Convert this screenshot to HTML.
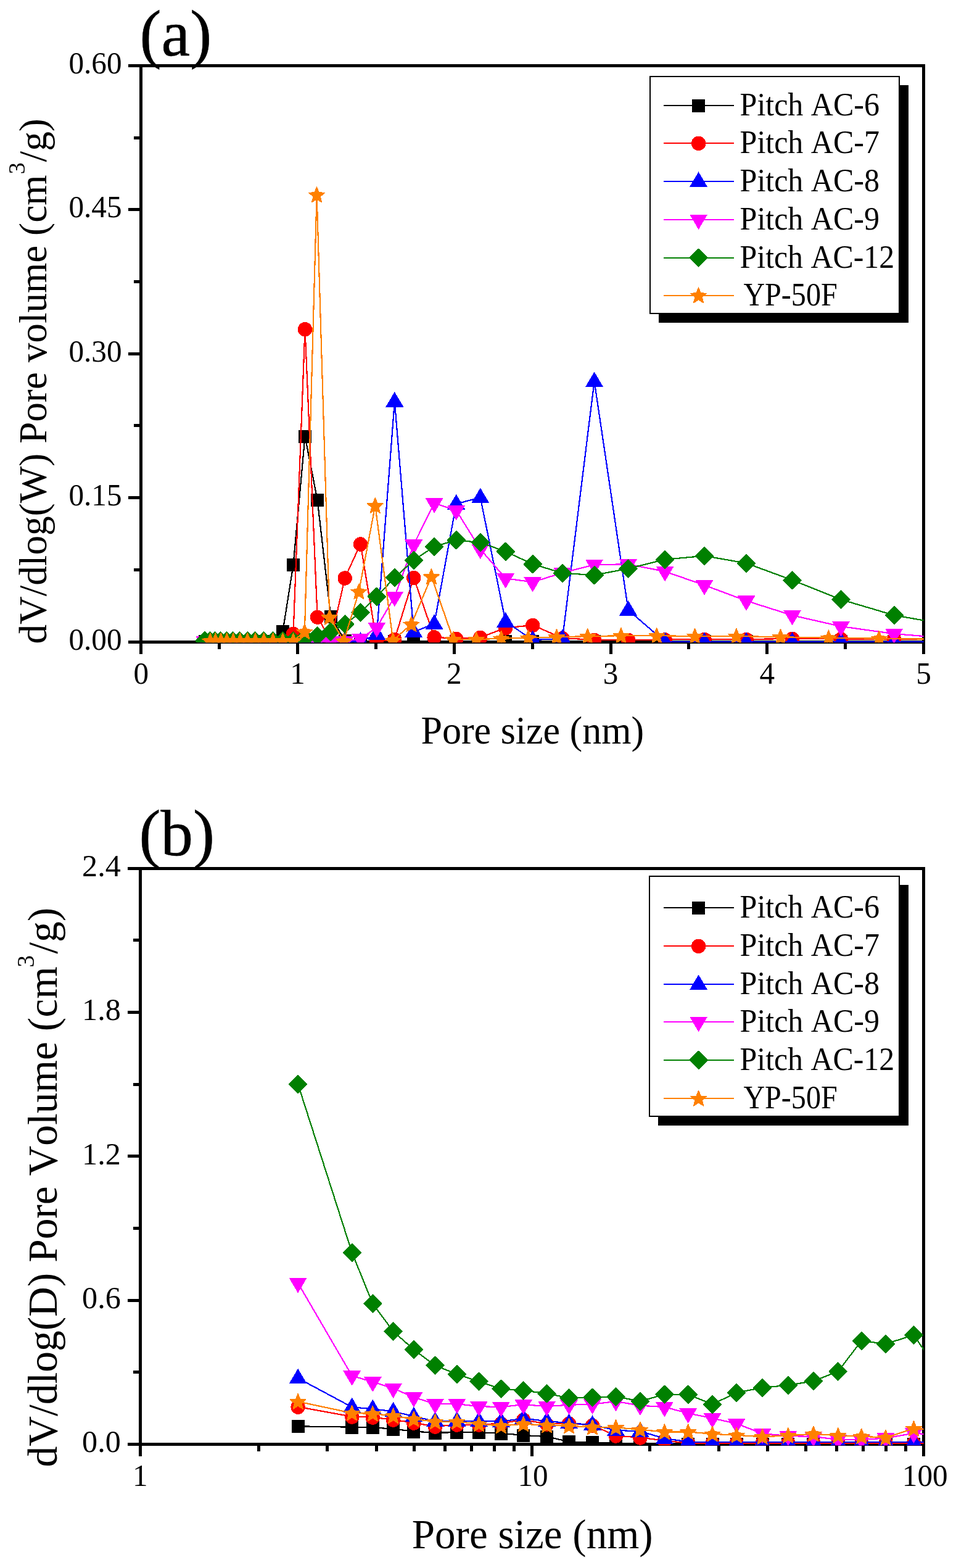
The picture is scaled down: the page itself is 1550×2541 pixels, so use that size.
<!DOCTYPE html>
<html lang="en">
<head>
<meta charset="utf-8">
<title>Pore size distribution</title>
<style>
html, body { margin: 0; padding: 0; background: #ffffff; }
body { width: 1550px; height: 2541px; }
svg { display: block; }
text { font-family: "Liberation Serif", "DejaVu Serif", serif; font-kerning: none; font-variant-ligatures: none; }
</style>
</head>
<body>
<svg width="1550" height="2541" viewBox="0 0 1550 2541" font-family='"Liberation Serif", "DejaVu Serif", serif' fill="#000">
<rect width="1550" height="2541" fill="#fff"/>
<defs><clipPath id="ca"><rect x="228.7" y="104" width="1268.8" height="937.2"/></clipPath><clipPath id="cb"><rect x="227.9" y="1405" width="1269.6" height="937.3"/></clipPath></defs>
<g id="chart-a" shape-rendering="crispEdges">
<g fill="#000" shape-rendering="crispEdges">
<rect x="226.2" y="103.9" width="1273.8" height="5"/>
<rect x="226.2" y="1037.5" width="1273.8" height="5"/>
<rect x="226.2" y="103.9" width="5" height="938.6"/>
<rect x="1495" y="103.9" width="5" height="938.6"/>
<rect x="226.2" y="1040" width="5" height="20"/>
<rect x="480" y="1040" width="5" height="20"/>
<rect x="733.7" y="1040" width="5" height="20"/>
<rect x="987.5" y="1040" width="5" height="20"/>
<rect x="1241.2" y="1040" width="5" height="20"/>
<rect x="1495" y="1040" width="5" height="20"/>
<rect x="353.1" y="1040" width="5" height="11.8"/>
<rect x="606.8" y="1040" width="5" height="11.8"/>
<rect x="860.6" y="1040" width="5" height="11.8"/>
<rect x="1114.4" y="1040" width="5" height="11.8"/>
<rect x="1368.1" y="1040" width="5" height="11.8"/>
<rect x="207.7" y="1037.5" width="21" height="5"/>
<rect x="207.7" y="804.1" width="21" height="5"/>
<rect x="207.7" y="570.7" width="21" height="5"/>
<rect x="207.7" y="337.3" width="21" height="5"/>
<rect x="207.7" y="103.9" width="21" height="5"/>
<rect x="217.2" y="920.8" width="11.5" height="5"/>
<rect x="217.2" y="687.4" width="11.5" height="5"/>
<rect x="217.2" y="454" width="11.5" height="5"/>
<rect x="217.2" y="220.6" width="11.5" height="5"/>
</g>
<g clip-path="url(#ca)" shape-rendering="crispEdges">
<polyline points="332,1039.5 340.1,1039.5 348.4,1039.5 357.1,1039.5 367.1,1039.5 377.5,1039.5 388.6,1039.5 401.2,1039.5 413.3,1039.5 427.7,1039.5 442.7,1039.5 458.4,1023.5 475.5,915.4 494.5,707.2 514.6,810.2 536.3,999.3 559.2,1038 584.5,1039.5 610.8,1039.5 639.8,1039.5 670.7,1039.5 704.1,1039.5 739.7,1039.5 778.8,1039.5 819.7,1039.5 863.6,1039.5 911.9,1039.5 963.6,1039.5 1018.6,1039.5 1078.1,1039.5 1142,1039.5 1210,1039.5 1284.5,1039.5 1363.5,1039.5 1449.6,1039.5 1541,1039.5" fill="none" stroke="#000000" stroke-width="2.2" stroke-linejoin="round"/>
<rect x="321.5" y="1029.1" width="21" height="21.3" fill="#000000"/>
<rect x="329.6" y="1029.1" width="21" height="21.3" fill="#000000"/>
<rect x="337.9" y="1029.1" width="21" height="21.3" fill="#000000"/>
<rect x="346.6" y="1029.1" width="21" height="21.3" fill="#000000"/>
<rect x="356.6" y="1029.1" width="21" height="21.3" fill="#000000"/>
<rect x="367" y="1029.1" width="21" height="21.3" fill="#000000"/>
<rect x="378.1" y="1029.1" width="21" height="21.3" fill="#000000"/>
<rect x="390.7" y="1029.1" width="21" height="21.3" fill="#000000"/>
<rect x="402.8" y="1029.1" width="21" height="21.3" fill="#000000"/>
<rect x="417.2" y="1029.1" width="21" height="21.3" fill="#000000"/>
<rect x="432.2" y="1029.1" width="21" height="21.3" fill="#000000"/>
<rect x="447.9" y="1013.1" width="21" height="21.3" fill="#000000"/>
<rect x="465" y="905" width="21" height="21.3" fill="#000000"/>
<rect x="484" y="696.8" width="21" height="21.3" fill="#000000"/>
<rect x="504.1" y="799.8" width="21" height="21.3" fill="#000000"/>
<rect x="525.8" y="988.9" width="21" height="21.3" fill="#000000"/>
<rect x="548.7" y="1027.6" width="21" height="21.3" fill="#000000"/>
<rect x="574" y="1029.1" width="21" height="21.3" fill="#000000"/>
<rect x="600.3" y="1029.1" width="21" height="21.3" fill="#000000"/>
<rect x="629.3" y="1029.1" width="21" height="21.3" fill="#000000"/>
<rect x="660.2" y="1029.1" width="21" height="21.3" fill="#000000"/>
<rect x="693.6" y="1029.1" width="21" height="21.3" fill="#000000"/>
<rect x="729.2" y="1029.1" width="21" height="21.3" fill="#000000"/>
<rect x="768.3" y="1029.1" width="21" height="21.3" fill="#000000"/>
<rect x="809.2" y="1029.1" width="21" height="21.3" fill="#000000"/>
<rect x="853.1" y="1029.1" width="21" height="21.3" fill="#000000"/>
<rect x="901.4" y="1029.1" width="21" height="21.3" fill="#000000"/>
<rect x="953.1" y="1029.1" width="21" height="21.3" fill="#000000"/>
<rect x="1008.1" y="1029.1" width="21" height="21.3" fill="#000000"/>
<rect x="1067.6" y="1029.1" width="21" height="21.3" fill="#000000"/>
<rect x="1131.5" y="1029.1" width="21" height="21.3" fill="#000000"/>
<rect x="1199.5" y="1029.1" width="21" height="21.3" fill="#000000"/>
<rect x="1274" y="1029.1" width="21" height="21.3" fill="#000000"/>
<rect x="1353" y="1029.1" width="21" height="21.3" fill="#000000"/>
<rect x="1439.1" y="1029.1" width="21" height="21.3" fill="#000000"/>
<rect x="1530.5" y="1029.1" width="21" height="21.3" fill="#000000"/>
<polyline points="332,1039 340.1,1039 348.4,1039 357.1,1039 367.1,1039 377.5,1039 388.6,1039 401.2,1039 413.3,1039 427.7,1039 442.7,1039 458.4,1039 475.5,1027 494.5,533.3 514.6,999.8 536.3,1038 559.2,936.6 584.5,881.6 610.8,1040 639.8,1036 670.7,936.1 704.1,1032.5 739.7,1035 778.8,1033 819.7,1017.5 863.6,1013.1 911.9,1034 963.6,1037 1018.6,1037 1078.1,1036.5 1142,1036 1210,1036 1284.5,1035 1363.5,1035.5 1449.6,1036 1541,1036" fill="none" stroke="#ff0000" stroke-width="2.2" stroke-linejoin="round"/>
<circle cx="332" cy="1039.4" r="11.7" fill="#ff0000"/>
<circle cx="340.1" cy="1039.4" r="11.7" fill="#ff0000"/>
<circle cx="348.4" cy="1039.4" r="11.7" fill="#ff0000"/>
<circle cx="357.1" cy="1039.4" r="11.7" fill="#ff0000"/>
<circle cx="367.1" cy="1039.4" r="11.7" fill="#ff0000"/>
<circle cx="377.5" cy="1039.4" r="11.7" fill="#ff0000"/>
<circle cx="388.6" cy="1039.4" r="11.7" fill="#ff0000"/>
<circle cx="401.2" cy="1039.4" r="11.7" fill="#ff0000"/>
<circle cx="413.3" cy="1039.4" r="11.7" fill="#ff0000"/>
<circle cx="427.7" cy="1039.4" r="11.7" fill="#ff0000"/>
<circle cx="442.7" cy="1039.4" r="11.7" fill="#ff0000"/>
<circle cx="458.4" cy="1039.4" r="11.7" fill="#ff0000"/>
<circle cx="475.5" cy="1027.4" r="11.7" fill="#ff0000"/>
<circle cx="494.5" cy="533.7" r="11.7" fill="#ff0000"/>
<circle cx="514.6" cy="1000.2" r="11.7" fill="#ff0000"/>
<circle cx="536.3" cy="1038.4" r="11.7" fill="#ff0000"/>
<circle cx="559.2" cy="937" r="11.7" fill="#ff0000"/>
<circle cx="584.5" cy="882" r="11.7" fill="#ff0000"/>
<circle cx="610.8" cy="1040.4" r="11.7" fill="#ff0000"/>
<circle cx="639.8" cy="1036.4" r="11.7" fill="#ff0000"/>
<circle cx="670.7" cy="936.5" r="11.7" fill="#ff0000"/>
<circle cx="704.1" cy="1032.9" r="11.7" fill="#ff0000"/>
<circle cx="739.7" cy="1035.4" r="11.7" fill="#ff0000"/>
<circle cx="778.8" cy="1033.4" r="11.7" fill="#ff0000"/>
<circle cx="819.7" cy="1017.9" r="11.7" fill="#ff0000"/>
<circle cx="863.6" cy="1013.5" r="11.7" fill="#ff0000"/>
<circle cx="911.9" cy="1034.4" r="11.7" fill="#ff0000"/>
<circle cx="963.6" cy="1037.4" r="11.7" fill="#ff0000"/>
<circle cx="1018.6" cy="1037.4" r="11.7" fill="#ff0000"/>
<circle cx="1078.1" cy="1036.9" r="11.7" fill="#ff0000"/>
<circle cx="1142" cy="1036.4" r="11.7" fill="#ff0000"/>
<circle cx="1210" cy="1036.4" r="11.7" fill="#ff0000"/>
<circle cx="1284.5" cy="1035.4" r="11.7" fill="#ff0000"/>
<circle cx="1363.5" cy="1035.9" r="11.7" fill="#ff0000"/>
<circle cx="1449.6" cy="1036.4" r="11.7" fill="#ff0000"/>
<circle cx="1541" cy="1036.4" r="11.7" fill="#ff0000"/>
<polyline points="332,1039.5 340.1,1039.5 348.4,1039.5 357.1,1039.5 367.1,1039.5 377.5,1039.5 388.6,1039.5 401.2,1039.5 413.3,1039.5 427.7,1039.5 442.7,1039.5 458.4,1039.5 475.5,1039.5 494.5,1039.5 514.6,1039.5 536.3,1039.5 559.2,1039.5 584.5,1039.5 610.8,1028 639.8,650.5 670.7,1024 704.1,1011 739.7,816.5 778.8,806.2 819.7,1007.5 863.6,1037 911.9,1035 963.6,618 1018.6,988.6 1078.1,1040 1142,1040 1210,1040 1284.5,1040 1363.5,1040 1449.6,1040 1541,1040" fill="none" stroke="#0000ff" stroke-width="2.2" stroke-linejoin="round"/>
<polygon points="332,1023.9 346.5,1048.5 317.5,1048.5" fill="#0000ff"/>
<polygon points="340.1,1023.9 354.6,1048.5 325.6,1048.5" fill="#0000ff"/>
<polygon points="348.4,1023.9 362.9,1048.5 333.9,1048.5" fill="#0000ff"/>
<polygon points="357.1,1023.9 371.6,1048.5 342.6,1048.5" fill="#0000ff"/>
<polygon points="367.1,1023.9 381.6,1048.5 352.6,1048.5" fill="#0000ff"/>
<polygon points="377.5,1023.9 392,1048.5 363,1048.5" fill="#0000ff"/>
<polygon points="388.6,1023.9 403.1,1048.5 374.1,1048.5" fill="#0000ff"/>
<polygon points="401.2,1023.9 415.7,1048.5 386.7,1048.5" fill="#0000ff"/>
<polygon points="413.3,1023.9 427.8,1048.5 398.8,1048.5" fill="#0000ff"/>
<polygon points="427.7,1023.9 442.2,1048.5 413.2,1048.5" fill="#0000ff"/>
<polygon points="442.7,1023.9 457.2,1048.5 428.2,1048.5" fill="#0000ff"/>
<polygon points="458.4,1023.9 472.9,1048.5 443.9,1048.5" fill="#0000ff"/>
<polygon points="475.5,1023.9 490,1048.5 461,1048.5" fill="#0000ff"/>
<polygon points="494.5,1023.9 509,1048.5 480,1048.5" fill="#0000ff"/>
<polygon points="514.6,1023.9 529.1,1048.5 500.1,1048.5" fill="#0000ff"/>
<polygon points="536.3,1023.9 550.8,1048.5 521.8,1048.5" fill="#0000ff"/>
<polygon points="559.2,1023.9 573.7,1048.5 544.7,1048.5" fill="#0000ff"/>
<polygon points="584.5,1023.9 599,1048.5 570,1048.5" fill="#0000ff"/>
<polygon points="610.8,1012.4 625.3,1037 596.3,1037" fill="#0000ff"/>
<polygon points="639.8,634.9 654.3,659.5 625.3,659.5" fill="#0000ff"/>
<polygon points="670.7,1008.4 685.2,1033 656.2,1033" fill="#0000ff"/>
<polygon points="704.1,995.4 718.6,1020 689.6,1020" fill="#0000ff"/>
<polygon points="739.7,800.9 754.2,825.5 725.2,825.5" fill="#0000ff"/>
<polygon points="778.8,790.6 793.3,815.2 764.3,815.2" fill="#0000ff"/>
<polygon points="819.7,991.9 834.2,1016.5 805.2,1016.5" fill="#0000ff"/>
<polygon points="863.6,1021.4 878.1,1046 849.1,1046" fill="#0000ff"/>
<polygon points="911.9,1019.4 926.4,1044 897.4,1044" fill="#0000ff"/>
<polygon points="963.6,602.4 978.1,627 949.1,627" fill="#0000ff"/>
<polygon points="1018.6,973 1033.1,997.6 1004.1,997.6" fill="#0000ff"/>
<polygon points="1078.1,1024.4 1092.6,1049 1063.6,1049" fill="#0000ff"/>
<polygon points="1142,1024.4 1156.5,1049 1127.5,1049" fill="#0000ff"/>
<polygon points="1210,1024.4 1224.5,1049 1195.5,1049" fill="#0000ff"/>
<polygon points="1284.5,1024.4 1299,1049 1270,1049" fill="#0000ff"/>
<polygon points="1363.5,1024.4 1378,1049 1349,1049" fill="#0000ff"/>
<polygon points="1449.6,1024.4 1464.1,1049 1435.1,1049" fill="#0000ff"/>
<polygon points="1541,1024.4 1555.5,1049 1526.5,1049" fill="#0000ff"/>
<polyline points="332,1039.5 340.1,1039.5 348.4,1039.5 357.1,1039.5 367.1,1039.5 377.5,1039.5 388.6,1039.5 401.2,1039.5 413.3,1039.5 427.7,1039.5 442.7,1039.5 458.4,1039.5 475.5,1039.5 494.5,1039.5 514.6,1039.5 536.3,1039.5 559.2,1039.5 584.5,1035 610.8,1017 639.8,967 670.7,882.7 704.1,815.5 739.7,827 778.8,890 819.7,937.3 863.6,943.3 911.9,928.3 963.6,915.1 1018.6,914.3 1078.1,926.1 1142,948.3 1210,973.6 1284.5,997.2 1363.5,1015.1 1449.6,1027.1 1541,1034.5" fill="none" stroke="#ff00ff" stroke-width="2.2" stroke-linejoin="round"/>
<polygon points="317.5,1031.2 346.5,1031.2 332,1055.8" fill="#ff00ff"/>
<polygon points="325.6,1031.2 354.6,1031.2 340.1,1055.8" fill="#ff00ff"/>
<polygon points="333.9,1031.2 362.9,1031.2 348.4,1055.8" fill="#ff00ff"/>
<polygon points="342.6,1031.2 371.6,1031.2 357.1,1055.8" fill="#ff00ff"/>
<polygon points="352.6,1031.2 381.6,1031.2 367.1,1055.8" fill="#ff00ff"/>
<polygon points="363,1031.2 392,1031.2 377.5,1055.8" fill="#ff00ff"/>
<polygon points="374.1,1031.2 403.1,1031.2 388.6,1055.8" fill="#ff00ff"/>
<polygon points="386.7,1031.2 415.7,1031.2 401.2,1055.8" fill="#ff00ff"/>
<polygon points="398.8,1031.2 427.8,1031.2 413.3,1055.8" fill="#ff00ff"/>
<polygon points="413.2,1031.2 442.2,1031.2 427.7,1055.8" fill="#ff00ff"/>
<polygon points="428.2,1031.2 457.2,1031.2 442.7,1055.8" fill="#ff00ff"/>
<polygon points="443.9,1031.2 472.9,1031.2 458.4,1055.8" fill="#ff00ff"/>
<polygon points="461,1031.2 490,1031.2 475.5,1055.8" fill="#ff00ff"/>
<polygon points="480,1031.2 509,1031.2 494.5,1055.8" fill="#ff00ff"/>
<polygon points="500.1,1031.2 529.1,1031.2 514.6,1055.8" fill="#ff00ff"/>
<polygon points="521.8,1031.2 550.8,1031.2 536.3,1055.8" fill="#ff00ff"/>
<polygon points="544.7,1031.2 573.7,1031.2 559.2,1055.8" fill="#ff00ff"/>
<polygon points="570,1026.7 599,1026.7 584.5,1051.3" fill="#ff00ff"/>
<polygon points="596.3,1008.7 625.3,1008.7 610.8,1033.3" fill="#ff00ff"/>
<polygon points="625.3,958.7 654.3,958.7 639.8,983.3" fill="#ff00ff"/>
<polygon points="656.2,874.4 685.2,874.4 670.7,899" fill="#ff00ff"/>
<polygon points="689.6,807.2 718.6,807.2 704.1,831.8" fill="#ff00ff"/>
<polygon points="725.2,818.7 754.2,818.7 739.7,843.3" fill="#ff00ff"/>
<polygon points="764.3,881.7 793.3,881.7 778.8,906.3" fill="#ff00ff"/>
<polygon points="805.2,929 834.2,929 819.7,953.6" fill="#ff00ff"/>
<polygon points="849.1,935 878.1,935 863.6,959.6" fill="#ff00ff"/>
<polygon points="897.4,920 926.4,920 911.9,944.6" fill="#ff00ff"/>
<polygon points="949.1,906.8 978.1,906.8 963.6,931.4" fill="#ff00ff"/>
<polygon points="1004.1,906 1033.1,906 1018.6,930.6" fill="#ff00ff"/>
<polygon points="1063.6,917.8 1092.6,917.8 1078.1,942.4" fill="#ff00ff"/>
<polygon points="1127.5,940 1156.5,940 1142,964.6" fill="#ff00ff"/>
<polygon points="1195.5,965.3 1224.5,965.3 1210,989.9" fill="#ff00ff"/>
<polygon points="1270,988.9 1299,988.9 1284.5,1013.5" fill="#ff00ff"/>
<polygon points="1349,1006.8 1378,1006.8 1363.5,1031.4" fill="#ff00ff"/>
<polygon points="1435.1,1018.8 1464.1,1018.8 1449.6,1043.4" fill="#ff00ff"/>
<polygon points="1526.5,1026.2 1555.5,1026.2 1541,1050.8" fill="#ff00ff"/>
<polyline points="332,1038.5 340.1,1038.5 348.4,1038.5 357.1,1038.5 367.1,1038.5 377.5,1038.5 388.6,1038.5 401.2,1038.5 413.3,1038.5 427.7,1038.5 442.7,1038.5 458.4,1038.5 475.5,1038.5 494.5,1034 514.6,1030.4 536.3,1024 559.2,1011.4 584.5,992.4 610.8,966.7 639.8,936.1 670.7,908 704.1,885.8 739.7,875.2 778.8,879.2 819.7,893.8 863.6,914.1 911.9,928.7 963.6,932.1 1018.6,921.3 1078.1,906.7 1142,900.8 1210,912.7 1284.5,940.1 1363.5,971.6 1449.6,997 1541,1013" fill="none" stroke="#008000" stroke-width="2.2" stroke-linejoin="round"/>
<polygon points="332,1024.1 346.4,1038.5 332,1052.9 317.6,1038.5" fill="#008000" stroke="#008000" stroke-width="1.6" stroke-linejoin="round"/>
<polygon points="340.1,1024.1 354.5,1038.5 340.1,1052.9 325.7,1038.5" fill="#008000" stroke="#008000" stroke-width="1.6" stroke-linejoin="round"/>
<polygon points="348.4,1024.1 362.8,1038.5 348.4,1052.9 334,1038.5" fill="#008000" stroke="#008000" stroke-width="1.6" stroke-linejoin="round"/>
<polygon points="357.1,1024.1 371.5,1038.5 357.1,1052.9 342.7,1038.5" fill="#008000" stroke="#008000" stroke-width="1.6" stroke-linejoin="round"/>
<polygon points="367.1,1024.1 381.5,1038.5 367.1,1052.9 352.7,1038.5" fill="#008000" stroke="#008000" stroke-width="1.6" stroke-linejoin="round"/>
<polygon points="377.5,1024.1 391.9,1038.5 377.5,1052.9 363.1,1038.5" fill="#008000" stroke="#008000" stroke-width="1.6" stroke-linejoin="round"/>
<polygon points="388.6,1024.1 403,1038.5 388.6,1052.9 374.2,1038.5" fill="#008000" stroke="#008000" stroke-width="1.6" stroke-linejoin="round"/>
<polygon points="401.2,1024.1 415.6,1038.5 401.2,1052.9 386.8,1038.5" fill="#008000" stroke="#008000" stroke-width="1.6" stroke-linejoin="round"/>
<polygon points="413.3,1024.1 427.7,1038.5 413.3,1052.9 398.9,1038.5" fill="#008000" stroke="#008000" stroke-width="1.6" stroke-linejoin="round"/>
<polygon points="427.7,1024.1 442.1,1038.5 427.7,1052.9 413.3,1038.5" fill="#008000" stroke="#008000" stroke-width="1.6" stroke-linejoin="round"/>
<polygon points="442.7,1024.1 457.1,1038.5 442.7,1052.9 428.3,1038.5" fill="#008000" stroke="#008000" stroke-width="1.6" stroke-linejoin="round"/>
<polygon points="458.4,1024.1 472.8,1038.5 458.4,1052.9 444,1038.5" fill="#008000" stroke="#008000" stroke-width="1.6" stroke-linejoin="round"/>
<polygon points="475.5,1024.1 489.9,1038.5 475.5,1052.9 461.1,1038.5" fill="#008000" stroke="#008000" stroke-width="1.6" stroke-linejoin="round"/>
<polygon points="494.5,1019.6 508.9,1034 494.5,1048.4 480.1,1034" fill="#008000" stroke="#008000" stroke-width="1.6" stroke-linejoin="round"/>
<polygon points="514.6,1016 529,1030.4 514.6,1044.8 500.2,1030.4" fill="#008000" stroke="#008000" stroke-width="1.6" stroke-linejoin="round"/>
<polygon points="536.3,1009.6 550.7,1024 536.3,1038.4 521.9,1024" fill="#008000" stroke="#008000" stroke-width="1.6" stroke-linejoin="round"/>
<polygon points="559.2,997 573.6,1011.4 559.2,1025.8 544.8,1011.4" fill="#008000" stroke="#008000" stroke-width="1.6" stroke-linejoin="round"/>
<polygon points="584.5,978 598.9,992.4 584.5,1006.8 570.1,992.4" fill="#008000" stroke="#008000" stroke-width="1.6" stroke-linejoin="round"/>
<polygon points="610.8,952.3 625.2,966.7 610.8,981.1 596.4,966.7" fill="#008000" stroke="#008000" stroke-width="1.6" stroke-linejoin="round"/>
<polygon points="639.8,921.7 654.2,936.1 639.8,950.5 625.4,936.1" fill="#008000" stroke="#008000" stroke-width="1.6" stroke-linejoin="round"/>
<polygon points="670.7,893.6 685.1,908 670.7,922.4 656.3,908" fill="#008000" stroke="#008000" stroke-width="1.6" stroke-linejoin="round"/>
<polygon points="704.1,871.4 718.5,885.8 704.1,900.2 689.7,885.8" fill="#008000" stroke="#008000" stroke-width="1.6" stroke-linejoin="round"/>
<polygon points="739.7,860.8 754.1,875.2 739.7,889.6 725.3,875.2" fill="#008000" stroke="#008000" stroke-width="1.6" stroke-linejoin="round"/>
<polygon points="778.8,864.8 793.2,879.2 778.8,893.6 764.4,879.2" fill="#008000" stroke="#008000" stroke-width="1.6" stroke-linejoin="round"/>
<polygon points="819.7,879.4 834.1,893.8 819.7,908.2 805.3,893.8" fill="#008000" stroke="#008000" stroke-width="1.6" stroke-linejoin="round"/>
<polygon points="863.6,899.7 878,914.1 863.6,928.5 849.2,914.1" fill="#008000" stroke="#008000" stroke-width="1.6" stroke-linejoin="round"/>
<polygon points="911.9,914.3 926.3,928.7 911.9,943.1 897.5,928.7" fill="#008000" stroke="#008000" stroke-width="1.6" stroke-linejoin="round"/>
<polygon points="963.6,917.7 978,932.1 963.6,946.5 949.2,932.1" fill="#008000" stroke="#008000" stroke-width="1.6" stroke-linejoin="round"/>
<polygon points="1018.6,906.9 1033,921.3 1018.6,935.7 1004.2,921.3" fill="#008000" stroke="#008000" stroke-width="1.6" stroke-linejoin="round"/>
<polygon points="1078.1,892.3 1092.5,906.7 1078.1,921.1 1063.7,906.7" fill="#008000" stroke="#008000" stroke-width="1.6" stroke-linejoin="round"/>
<polygon points="1142,886.4 1156.4,900.8 1142,915.2 1127.6,900.8" fill="#008000" stroke="#008000" stroke-width="1.6" stroke-linejoin="round"/>
<polygon points="1210,898.3 1224.4,912.7 1210,927.1 1195.6,912.7" fill="#008000" stroke="#008000" stroke-width="1.6" stroke-linejoin="round"/>
<polygon points="1284.5,925.7 1298.9,940.1 1284.5,954.5 1270.1,940.1" fill="#008000" stroke="#008000" stroke-width="1.6" stroke-linejoin="round"/>
<polygon points="1363.5,957.2 1377.9,971.6 1363.5,986 1349.1,971.6" fill="#008000" stroke="#008000" stroke-width="1.6" stroke-linejoin="round"/>
<polygon points="1449.6,982.6 1464,997 1449.6,1011.4 1435.2,997" fill="#008000" stroke="#008000" stroke-width="1.6" stroke-linejoin="round"/>
<polygon points="1541,998.6 1555.4,1013 1541,1027.4 1526.6,1013" fill="#008000" stroke="#008000" stroke-width="1.6" stroke-linejoin="round"/>
<polyline points="340.9,1038.5 349.3,1038.5 358.2,1038.5 367.8,1038.5 378.2,1038.5 389.3,1038.5 401.2,1038.5 414,1038.5 427.8,1038.5 442.6,1038.5 458.5,1038.5 475.5,1038.5 493.9,1023.7 513.6,315.7 534.3,1000.3 557.6,1038.7 581.9,958.7 608.3,819.3 637.2,1037.7 667,1011.6 699.5,934.4 734.9,1036.2 772.2,1036.2 812.7,1034.7 856.6,1033.7 902.5,1032.2 952.8,1031.2 1006.9,1030.2 1064.8,1030.2 1126.6,1031 1193.9,1031 1265.5,1032.2 1343.4,1033.7 1425.2,1034.7 1513,1035.7" fill="none" stroke="#ff8000" stroke-width="2.2" stroke-linejoin="round"/>
<polygon points="340.9,1026 344.4,1034.7 353.8,1035.3 346.5,1041.3 348.8,1050.4 340.9,1045.4 333,1050.4 335.3,1041.3 328.1,1035.3 337.4,1034.7" fill="#ff8000" stroke="#ff8000" stroke-width="1.4" stroke-linejoin="round"/>
<polygon points="349.3,1026 352.7,1034.7 362.1,1035.3 354.9,1041.3 357.2,1050.4 349.3,1045.4 341.3,1050.4 343.6,1041.3 336.4,1035.3 345.8,1034.7" fill="#ff8000" stroke="#ff8000" stroke-width="1.4" stroke-linejoin="round"/>
<polygon points="358.2,1026 361.7,1034.7 371,1035.3 363.8,1041.3 366.1,1050.4 358.2,1045.4 350.3,1050.4 352.6,1041.3 345.4,1035.3 354.7,1034.7" fill="#ff8000" stroke="#ff8000" stroke-width="1.4" stroke-linejoin="round"/>
<polygon points="367.8,1026 371.3,1034.7 380.7,1035.3 373.4,1041.3 375.8,1050.4 367.8,1045.4 359.9,1050.4 362.2,1041.3 355,1035.3 364.4,1034.7" fill="#ff8000" stroke="#ff8000" stroke-width="1.4" stroke-linejoin="round"/>
<polygon points="378.2,1026 381.6,1034.7 391,1035.3 383.8,1041.3 386.1,1050.4 378.2,1045.4 370.2,1050.4 372.6,1041.3 365.3,1035.3 374.7,1034.7" fill="#ff8000" stroke="#ff8000" stroke-width="1.4" stroke-linejoin="round"/>
<polygon points="389.3,1026 392.7,1034.7 402.1,1035.3 394.9,1041.3 397.2,1050.4 389.3,1045.4 381.3,1050.4 383.7,1041.3 376.4,1035.3 385.8,1034.7" fill="#ff8000" stroke="#ff8000" stroke-width="1.4" stroke-linejoin="round"/>
<polygon points="401.2,1026 404.7,1034.7 414,1035.3 406.8,1041.3 409.1,1050.4 401.2,1045.4 393.3,1050.4 395.6,1041.3 388.4,1035.3 397.7,1034.7" fill="#ff8000" stroke="#ff8000" stroke-width="1.4" stroke-linejoin="round"/>
<polygon points="414,1026 417.5,1034.7 426.9,1035.3 419.6,1041.3 422,1050.4 414,1045.4 406.1,1050.4 408.4,1041.3 401.2,1035.3 410.6,1034.7" fill="#ff8000" stroke="#ff8000" stroke-width="1.4" stroke-linejoin="round"/>
<polygon points="427.8,1026 431.3,1034.7 440.6,1035.3 433.4,1041.3 435.7,1050.4 427.8,1045.4 419.9,1050.4 422.2,1041.3 415,1035.3 424.3,1034.7" fill="#ff8000" stroke="#ff8000" stroke-width="1.4" stroke-linejoin="round"/>
<polygon points="442.6,1026 446.1,1034.7 455.4,1035.3 448.2,1041.3 450.5,1050.4 442.6,1045.4 434.6,1050.4 437,1041.3 429.7,1035.3 439.1,1034.7" fill="#ff8000" stroke="#ff8000" stroke-width="1.4" stroke-linejoin="round"/>
<polygon points="458.5,1026 461.9,1034.7 471.3,1035.3 464.1,1041.3 466.4,1050.4 458.5,1045.4 450.5,1050.4 452.9,1041.3 445.6,1035.3 455,1034.7" fill="#ff8000" stroke="#ff8000" stroke-width="1.4" stroke-linejoin="round"/>
<polygon points="475.5,1026 479,1034.7 488.4,1035.3 481.2,1041.3 483.5,1050.4 475.5,1045.4 467.6,1050.4 469.9,1041.3 462.7,1035.3 472.1,1034.7" fill="#ff8000" stroke="#ff8000" stroke-width="1.4" stroke-linejoin="round"/>
<polygon points="493.9,1011.2 497.4,1019.9 506.7,1020.5 499.5,1026.5 501.8,1035.6 493.9,1030.6 486,1035.6 488.3,1026.5 481.1,1020.5 490.4,1019.9" fill="#ff8000" stroke="#ff8000" stroke-width="1.4" stroke-linejoin="round"/>
<polygon points="513.6,303.2 517.1,311.9 526.4,312.5 519.2,318.5 521.5,327.6 513.6,322.6 505.7,327.6 508,318.5 500.8,312.5 510.1,311.9" fill="#ff8000" stroke="#ff8000" stroke-width="1.4" stroke-linejoin="round"/>
<polygon points="534.3,987.8 537.8,996.5 547.1,997.1 539.9,1003.1 542.2,1012.2 534.3,1007.2 526.4,1012.2 528.7,1003.1 521.5,997.1 530.8,996.5" fill="#ff8000" stroke="#ff8000" stroke-width="1.4" stroke-linejoin="round"/>
<polygon points="557.6,1026.2 561.1,1034.9 570.4,1035.5 563.2,1041.5 565.5,1050.6 557.6,1045.6 549.7,1050.6 552,1041.5 544.8,1035.5 554.1,1034.9" fill="#ff8000" stroke="#ff8000" stroke-width="1.4" stroke-linejoin="round"/>
<polygon points="581.9,946.2 585.4,954.9 594.7,955.5 587.5,961.5 589.8,970.6 581.9,965.6 574,970.6 576.3,961.5 569.1,955.5 578.4,954.9" fill="#ff8000" stroke="#ff8000" stroke-width="1.4" stroke-linejoin="round"/>
<polygon points="608.3,806.8 611.8,815.5 621.1,816.1 613.9,822.1 616.2,831.2 608.3,826.2 600.4,831.2 602.7,822.1 595.5,816.1 604.8,815.5" fill="#ff8000" stroke="#ff8000" stroke-width="1.4" stroke-linejoin="round"/>
<polygon points="637.2,1025.2 640.7,1033.9 650,1034.5 642.8,1040.5 645.1,1049.6 637.2,1044.6 629.3,1049.6 631.6,1040.5 624.4,1034.5 633.7,1033.9" fill="#ff8000" stroke="#ff8000" stroke-width="1.4" stroke-linejoin="round"/>
<polygon points="667,999.1 670.5,1007.8 679.8,1008.4 672.6,1014.4 674.9,1023.5 667,1018.5 659.1,1023.5 661.4,1014.4 654.2,1008.4 663.5,1007.8" fill="#ff8000" stroke="#ff8000" stroke-width="1.4" stroke-linejoin="round"/>
<polygon points="699.5,921.9 703,930.6 712.3,931.2 705.1,937.2 707.4,946.3 699.5,941.3 691.6,946.3 693.9,937.2 686.7,931.2 696,930.6" fill="#ff8000" stroke="#ff8000" stroke-width="1.4" stroke-linejoin="round"/>
<polygon points="734.9,1023.7 738.4,1032.4 747.7,1033 740.5,1039 742.8,1048.1 734.9,1043.1 727,1048.1 729.3,1039 722.1,1033 731.4,1032.4" fill="#ff8000" stroke="#ff8000" stroke-width="1.4" stroke-linejoin="round"/>
<polygon points="772.2,1023.7 775.7,1032.4 785,1033 777.8,1039 780.1,1048.1 772.2,1043.1 764.3,1048.1 766.6,1039 759.4,1033 768.7,1032.4" fill="#ff8000" stroke="#ff8000" stroke-width="1.4" stroke-linejoin="round"/>
<polygon points="812.7,1022.2 816.2,1030.9 825.5,1031.5 818.3,1037.5 820.6,1046.6 812.7,1041.6 804.8,1046.6 807.1,1037.5 799.9,1031.5 809.2,1030.9" fill="#ff8000" stroke="#ff8000" stroke-width="1.4" stroke-linejoin="round"/>
<polygon points="856.6,1021.2 860.1,1029.9 869.4,1030.5 862.2,1036.5 864.5,1045.6 856.6,1040.6 848.7,1045.6 851,1036.5 843.8,1030.5 853.1,1029.9" fill="#ff8000" stroke="#ff8000" stroke-width="1.4" stroke-linejoin="round"/>
<polygon points="902.5,1019.7 906,1028.4 915.3,1029 908.1,1035 910.4,1044.1 902.5,1039.1 894.6,1044.1 896.9,1035 889.7,1029 899,1028.4" fill="#ff8000" stroke="#ff8000" stroke-width="1.4" stroke-linejoin="round"/>
<polygon points="952.8,1018.7 956.3,1027.4 965.6,1028 958.4,1034 960.7,1043.1 952.8,1038.1 944.9,1043.1 947.2,1034 940,1028 949.3,1027.4" fill="#ff8000" stroke="#ff8000" stroke-width="1.4" stroke-linejoin="round"/>
<polygon points="1006.9,1017.7 1010.4,1026.4 1019.7,1027 1012.5,1033 1014.8,1042.1 1006.9,1037.1 999,1042.1 1001.3,1033 994.1,1027 1003.4,1026.4" fill="#ff8000" stroke="#ff8000" stroke-width="1.4" stroke-linejoin="round"/>
<polygon points="1064.8,1017.7 1068.3,1026.4 1077.6,1027 1070.4,1033 1072.7,1042.1 1064.8,1037.1 1056.9,1042.1 1059.2,1033 1052,1027 1061.3,1026.4" fill="#ff8000" stroke="#ff8000" stroke-width="1.4" stroke-linejoin="round"/>
<polygon points="1126.6,1018.5 1130.1,1027.2 1139.4,1027.8 1132.2,1033.8 1134.5,1042.9 1126.6,1037.9 1118.7,1042.9 1121,1033.8 1113.8,1027.8 1123.1,1027.2" fill="#ff8000" stroke="#ff8000" stroke-width="1.4" stroke-linejoin="round"/>
<polygon points="1193.9,1018.5 1197.4,1027.2 1206.7,1027.8 1199.5,1033.8 1201.8,1042.9 1193.9,1037.9 1186,1042.9 1188.3,1033.8 1181.1,1027.8 1190.4,1027.2" fill="#ff8000" stroke="#ff8000" stroke-width="1.4" stroke-linejoin="round"/>
<polygon points="1265.5,1019.7 1269,1028.4 1278.3,1029 1271.1,1035 1273.4,1044.1 1265.5,1039.1 1257.6,1044.1 1259.9,1035 1252.7,1029 1262,1028.4" fill="#ff8000" stroke="#ff8000" stroke-width="1.4" stroke-linejoin="round"/>
<polygon points="1343.4,1021.2 1346.9,1029.9 1356.2,1030.5 1349,1036.5 1351.3,1045.6 1343.4,1040.6 1335.5,1045.6 1337.8,1036.5 1330.6,1030.5 1339.9,1029.9" fill="#ff8000" stroke="#ff8000" stroke-width="1.4" stroke-linejoin="round"/>
<polygon points="1425.2,1022.2 1428.7,1030.9 1438,1031.5 1430.8,1037.5 1433.1,1046.6 1425.2,1041.6 1417.3,1046.6 1419.6,1037.5 1412.4,1031.5 1421.7,1030.9" fill="#ff8000" stroke="#ff8000" stroke-width="1.4" stroke-linejoin="round"/>
<polygon points="1513,1023.2 1516.5,1031.9 1525.8,1032.5 1518.6,1038.5 1520.9,1047.6 1513,1042.6 1505.1,1047.6 1507.4,1038.5 1500.2,1032.5 1509.5,1031.9" fill="#ff8000" stroke="#ff8000" stroke-width="1.4" stroke-linejoin="round"/>
</g>
<text transform="translate(197.5 1052.5) scale(0.9570 1)" font-size="51.4" text-anchor="end">0.00</text>
<text transform="translate(197.5 819.1) scale(0.9570 1)" font-size="51.4" text-anchor="end">0.15</text>
<text transform="translate(197.5 585.7) scale(0.9570 1)" font-size="51.4" text-anchor="end">0.30</text>
<text transform="translate(197.5 352.3) scale(0.9570 1)" font-size="51.4" text-anchor="end">0.45</text>
<text transform="translate(197.5 118.9) scale(0.9570 1)" font-size="51.4" text-anchor="end">0.60</text>
<text transform="translate(228.7 1108) scale(0.9570 1)" font-size="51.4" text-anchor="middle">0</text>
<text transform="translate(482.46 1108) scale(0.9570 1)" font-size="51.4" text-anchor="middle">1</text>
<text transform="translate(736.22 1108) scale(0.9570 1)" font-size="51.4" text-anchor="middle">2</text>
<text transform="translate(989.98 1108) scale(0.9570 1)" font-size="51.4" text-anchor="middle">3</text>
<text transform="translate(1243.74 1108) scale(0.9570 1)" font-size="51.4" text-anchor="middle">4</text>
<text transform="translate(1497.5 1108) scale(0.9570 1)" font-size="51.4" text-anchor="middle">5</text>
<text transform="translate(863.3 1204.7) scale(0.9850 1)" font-size="63" text-anchor="middle">Pore size (nm)</text>
<text transform="translate(74.8 1043.5) rotate(-90)" font-size="63.2" text-anchor="start">dV/dlog(W) Pore volume (cm<tspan font-size="38" dy="-35" dx="1.5">3</tspan><tspan dy="35" dx="0.8">/g)</tspan></text>
<text transform="translate(226.6 90)" font-size="105" text-anchor="start" stroke="#000" stroke-width="0.6">(a)</text>
<g shape-rendering="crispEdges">
<rect x="1067.5" y="138.1" width="405.6" height="384.9" fill="#000"/>
<rect x="1054" y="124.1" width="404.1" height="383.9" fill="#fff" stroke="#000" stroke-width="2.2"/>
</g>
<line x1="1076" y1="170.9" x2="1190" y2="170.9" stroke="#000000" stroke-width="2.2" shape-rendering="crispEdges"/>
<rect x="1122.1" y="160.5" width="21" height="21.3" fill="#000000"/>
<text transform="translate(1199.6 187) scale(0.9520 1)" font-size="52.5" text-anchor="start">Pitch AC-6</text>
<line x1="1076" y1="232" x2="1190" y2="232" stroke="#ff0000" stroke-width="2.2" shape-rendering="crispEdges"/>
<circle cx="1132.6" cy="232.4" r="11.7" fill="#ff0000"/>
<text transform="translate(1199.6 248.1) scale(0.9520 1)" font-size="52.5" text-anchor="start">Pitch AC-7</text>
<line x1="1076" y1="293.9" x2="1190" y2="293.9" stroke="#0000ff" stroke-width="2.2" shape-rendering="crispEdges"/>
<polygon points="1132.6,278.3 1147.1,302.9 1118.1,302.9" fill="#0000ff"/>
<text transform="translate(1199.6 310) scale(0.9520 1)" font-size="52.5" text-anchor="start">Pitch AC-8</text>
<line x1="1076" y1="355.8" x2="1190" y2="355.8" stroke="#ff00ff" stroke-width="2.2" shape-rendering="crispEdges"/>
<polygon points="1118.1,347.5 1147.1,347.5 1132.6,372.1" fill="#ff00ff"/>
<text transform="translate(1199.6 371.9) scale(0.9520 1)" font-size="52.5" text-anchor="start">Pitch AC-9</text>
<line x1="1076" y1="417.8" x2="1190" y2="417.8" stroke="#008000" stroke-width="2.2" shape-rendering="crispEdges"/>
<polygon points="1132.6,403.4 1147,417.8 1132.6,432.2 1118.2,417.8" fill="#008000" stroke="#008000" stroke-width="1.6" stroke-linejoin="round"/>
<text transform="translate(1199.6 433.9) scale(0.9491 1)" font-size="52.5" text-anchor="start">Pitch AC-12</text>
<line x1="1076" y1="478.7" x2="1190" y2="478.7" stroke="#ff8000" stroke-width="2.2" shape-rendering="crispEdges"/>
<polygon points="1132.6,466.2 1136.1,474.9 1145.4,475.5 1138.2,481.5 1140.5,490.6 1132.6,485.6 1124.7,490.6 1127,481.5 1119.8,475.5 1129.1,474.9" fill="#ff8000" stroke="#ff8000" stroke-width="1.4" stroke-linejoin="round"/>
<text transform="translate(1205.4 494.8) scale(0.9158 1)" font-size="52.5" text-anchor="start">YP-50F</text>
</g>
<g id="chart-b" shape-rendering="crispEdges">
<g fill="#000" shape-rendering="crispEdges">
<rect x="225.4" y="1404.8" width="1274.6" height="5"/>
<rect x="225.4" y="2337.8" width="1274.6" height="5"/>
<rect x="225.4" y="1404.8" width="5" height="938"/>
<rect x="1495" y="1404.8" width="5" height="938"/>
<rect x="225.4" y="2340.3" width="5" height="20"/>
<rect x="860.2" y="2340.3" width="5" height="20"/>
<rect x="1495" y="2340.3" width="5" height="20"/>
<rect x="416.5" y="2340.3" width="5" height="11.8"/>
<rect x="528.3" y="2340.3" width="5" height="11.8"/>
<rect x="607.6" y="2340.3" width="5" height="11.8"/>
<rect x="669.1" y="2340.3" width="5" height="11.8"/>
<rect x="719.4" y="2340.3" width="5" height="11.8"/>
<rect x="761.9" y="2340.3" width="5" height="11.8"/>
<rect x="798.7" y="2340.3" width="5" height="11.8"/>
<rect x="831.2" y="2340.3" width="5" height="11.8"/>
<rect x="1051.3" y="2340.3" width="5" height="11.8"/>
<rect x="1163.1" y="2340.3" width="5" height="11.8"/>
<rect x="1242.4" y="2340.3" width="5" height="11.8"/>
<rect x="1303.9" y="2340.3" width="5" height="11.8"/>
<rect x="1354.2" y="2340.3" width="5" height="11.8"/>
<rect x="1396.7" y="2340.3" width="5" height="11.8"/>
<rect x="1433.5" y="2340.3" width="5" height="11.8"/>
<rect x="1466" y="2340.3" width="5" height="11.8"/>
<rect x="206.9" y="2337.8" width="21" height="5"/>
<rect x="206.9" y="2104.6" width="21" height="5"/>
<rect x="206.9" y="1871.3" width="21" height="5"/>
<rect x="206.9" y="1638.1" width="21" height="5"/>
<rect x="206.9" y="1404.8" width="21" height="5"/>
<rect x="216.4" y="2221.2" width="11.5" height="5"/>
<rect x="216.4" y="1987.9" width="11.5" height="5"/>
<rect x="216.4" y="1754.7" width="11.5" height="5"/>
<rect x="216.4" y="1521.4" width="11.5" height="5"/>
</g>
<g clip-path="url(#cb)" shape-rendering="crispEdges">
<polyline points="483.1,2311.3 570.7,2312.7 604.3,2313.3 637.6,2315.7 670.9,2319.7 705.5,2321.7 740.9,2321.2 776.4,2321.2 812.4,2322.6 848.7,2326 886.6,2328 922.6,2336.4 960.5,2337.4 998.5,2339 1037.9,2339.5 1077.4,2340 1115.7,2340 1155,2340 1194.2,2340 1236.1,2340 1277.8,2340 1318.9,2340 1358.8,2340 1396.7,2340 1436,2340 1481.5,2340 1525,2340" fill="none" stroke="#000000" stroke-width="2.2" stroke-linejoin="round"/>
<rect x="472.6" y="2300.9" width="21" height="21.3" fill="#000000"/>
<rect x="560.2" y="2302.3" width="21" height="21.3" fill="#000000"/>
<rect x="593.8" y="2302.9" width="21" height="21.3" fill="#000000"/>
<rect x="627.1" y="2305.3" width="21" height="21.3" fill="#000000"/>
<rect x="660.4" y="2309.3" width="21" height="21.3" fill="#000000"/>
<rect x="695" y="2311.3" width="21" height="21.3" fill="#000000"/>
<rect x="730.4" y="2310.8" width="21" height="21.3" fill="#000000"/>
<rect x="765.9" y="2310.8" width="21" height="21.3" fill="#000000"/>
<rect x="801.9" y="2312.2" width="21" height="21.3" fill="#000000"/>
<rect x="838.2" y="2315.6" width="21" height="21.3" fill="#000000"/>
<rect x="876.1" y="2317.6" width="21" height="21.3" fill="#000000"/>
<rect x="912.1" y="2326" width="21" height="21.3" fill="#000000"/>
<rect x="950" y="2327" width="21" height="21.3" fill="#000000"/>
<rect x="988" y="2328.6" width="21" height="21.3" fill="#000000"/>
<rect x="1027.4" y="2329.1" width="21" height="21.3" fill="#000000"/>
<rect x="1066.9" y="2329.6" width="21" height="21.3" fill="#000000"/>
<rect x="1105.2" y="2329.6" width="21" height="21.3" fill="#000000"/>
<rect x="1144.5" y="2329.6" width="21" height="21.3" fill="#000000"/>
<rect x="1183.7" y="2329.6" width="21" height="21.3" fill="#000000"/>
<rect x="1225.6" y="2329.6" width="21" height="21.3" fill="#000000"/>
<rect x="1267.3" y="2329.6" width="21" height="21.3" fill="#000000"/>
<rect x="1308.4" y="2329.6" width="21" height="21.3" fill="#000000"/>
<rect x="1348.3" y="2329.6" width="21" height="21.3" fill="#000000"/>
<rect x="1386.2" y="2329.6" width="21" height="21.3" fill="#000000"/>
<rect x="1425.5" y="2329.6" width="21" height="21.3" fill="#000000"/>
<rect x="1471" y="2329.6" width="21" height="21.3" fill="#000000"/>
<rect x="1514.5" y="2329.6" width="21" height="21.3" fill="#000000"/>
<polyline points="483.1,2279.8 570.7,2295.7 604.3,2296.7 637.6,2300.7 670.9,2305.7 705.5,2311.7 740.9,2308.7 776.4,2308.7 812.4,2306.7 848.7,2300.7 886.6,2307.7 922.6,2306.7 960.5,2309.7 998.5,2326.6 1037.9,2329.6 1077.4,2334.5 1115.7,2338.6 1155,2338.6 1194.2,2338.6 1236.1,2338.6 1277.8,2338.6 1318.9,2338.6 1358.8,2338.6 1396.7,2338.6 1436,2338.6 1481.5,2338.6 1525,2338.6" fill="none" stroke="#ff0000" stroke-width="2.2" stroke-linejoin="round"/>
<circle cx="483.1" cy="2280.2" r="11.7" fill="#ff0000"/>
<circle cx="570.7" cy="2296.1" r="11.7" fill="#ff0000"/>
<circle cx="604.3" cy="2297.1" r="11.7" fill="#ff0000"/>
<circle cx="637.6" cy="2301.1" r="11.7" fill="#ff0000"/>
<circle cx="670.9" cy="2306.1" r="11.7" fill="#ff0000"/>
<circle cx="705.5" cy="2312.1" r="11.7" fill="#ff0000"/>
<circle cx="740.9" cy="2309.1" r="11.7" fill="#ff0000"/>
<circle cx="776.4" cy="2309.1" r="11.7" fill="#ff0000"/>
<circle cx="812.4" cy="2307.1" r="11.7" fill="#ff0000"/>
<circle cx="848.7" cy="2301.1" r="11.7" fill="#ff0000"/>
<circle cx="886.6" cy="2308.1" r="11.7" fill="#ff0000"/>
<circle cx="922.6" cy="2307.1" r="11.7" fill="#ff0000"/>
<circle cx="960.5" cy="2310.1" r="11.7" fill="#ff0000"/>
<circle cx="998.5" cy="2327" r="11.7" fill="#ff0000"/>
<circle cx="1037.9" cy="2330" r="11.7" fill="#ff0000"/>
<circle cx="1077.4" cy="2334.9" r="11.7" fill="#ff0000"/>
<circle cx="1115.7" cy="2339" r="11.7" fill="#ff0000"/>
<circle cx="1155" cy="2339" r="11.7" fill="#ff0000"/>
<circle cx="1194.2" cy="2339" r="11.7" fill="#ff0000"/>
<circle cx="1236.1" cy="2339" r="11.7" fill="#ff0000"/>
<circle cx="1277.8" cy="2339" r="11.7" fill="#ff0000"/>
<circle cx="1318.9" cy="2339" r="11.7" fill="#ff0000"/>
<circle cx="1358.8" cy="2339" r="11.7" fill="#ff0000"/>
<circle cx="1396.7" cy="2339" r="11.7" fill="#ff0000"/>
<circle cx="1436" cy="2339" r="11.7" fill="#ff0000"/>
<circle cx="1481.5" cy="2339" r="11.7" fill="#ff0000"/>
<circle cx="1525" cy="2339" r="11.7" fill="#ff0000"/>
<polyline points="483.1,2233.4 570.7,2280.3 604.3,2283.3 637.6,2287.3 670.9,2295.3 705.5,2303.2 740.9,2302.7 776.4,2303 812.4,2303.6 848.7,2298.7 886.6,2303 922.6,2306.2 960.5,2309 998.5,2317.8 1037.9,2319.5 1077.4,2331 1115.7,2336.5 1155,2337.2 1194.2,2337.2 1236.1,2337.2 1277.8,2337.2 1318.9,2337.2 1358.8,2337.2 1396.7,2337.2 1436,2337.2 1481.5,2337.2 1525,2337.2" fill="none" stroke="#0000ff" stroke-width="2.2" stroke-linejoin="round"/>
<polygon points="483.1,2217.8 497.6,2242.4 468.6,2242.4" fill="#0000ff"/>
<polygon points="570.7,2264.7 585.2,2289.3 556.2,2289.3" fill="#0000ff"/>
<polygon points="604.3,2267.7 618.8,2292.3 589.8,2292.3" fill="#0000ff"/>
<polygon points="637.6,2271.7 652.1,2296.3 623.1,2296.3" fill="#0000ff"/>
<polygon points="670.9,2279.7 685.4,2304.3 656.4,2304.3" fill="#0000ff"/>
<polygon points="705.5,2287.6 720,2312.2 691,2312.2" fill="#0000ff"/>
<polygon points="740.9,2287.1 755.4,2311.7 726.4,2311.7" fill="#0000ff"/>
<polygon points="776.4,2287.4 790.9,2312 761.9,2312" fill="#0000ff"/>
<polygon points="812.4,2288 826.9,2312.6 797.9,2312.6" fill="#0000ff"/>
<polygon points="848.7,2283.1 863.2,2307.7 834.2,2307.7" fill="#0000ff"/>
<polygon points="886.6,2287.4 901.1,2312 872.1,2312" fill="#0000ff"/>
<polygon points="922.6,2290.6 937.1,2315.2 908.1,2315.2" fill="#0000ff"/>
<polygon points="960.5,2293.4 975,2318 946,2318" fill="#0000ff"/>
<polygon points="998.5,2302.2 1013,2326.8 984,2326.8" fill="#0000ff"/>
<polygon points="1037.9,2303.9 1052.4,2328.5 1023.4,2328.5" fill="#0000ff"/>
<polygon points="1077.4,2315.4 1091.9,2340 1062.9,2340" fill="#0000ff"/>
<polygon points="1115.7,2320.9 1130.2,2345.5 1101.2,2345.5" fill="#0000ff"/>
<polygon points="1155,2321.6 1169.5,2346.2 1140.5,2346.2" fill="#0000ff"/>
<polygon points="1194.2,2321.6 1208.7,2346.2 1179.7,2346.2" fill="#0000ff"/>
<polygon points="1236.1,2321.6 1250.6,2346.2 1221.6,2346.2" fill="#0000ff"/>
<polygon points="1277.8,2321.6 1292.3,2346.2 1263.3,2346.2" fill="#0000ff"/>
<polygon points="1318.9,2321.6 1333.4,2346.2 1304.4,2346.2" fill="#0000ff"/>
<polygon points="1358.8,2321.6 1373.3,2346.2 1344.3,2346.2" fill="#0000ff"/>
<polygon points="1396.7,2321.6 1411.2,2346.2 1382.2,2346.2" fill="#0000ff"/>
<polygon points="1436,2321.6 1450.5,2346.2 1421.5,2346.2" fill="#0000ff"/>
<polygon points="1481.5,2321.6 1496,2346.2 1467,2346.2" fill="#0000ff"/>
<polygon points="1525,2321.6 1539.5,2346.2 1510.5,2346.2" fill="#0000ff"/>
<polyline points="483.1,2079.2 570.7,2229.5 604.3,2239.5 637.6,2249.8 670.9,2264.4 705.5,2275.2 740.9,2275.1 776.4,2279.1 812.4,2280.1 848.7,2276.1 886.6,2279.1 922.6,2276.7 960.5,2275.7 998.5,2271 1037.9,2277.7 1077.4,2280.1 1115.7,2290.3 1155,2298.3 1194.2,2307.1 1236.1,2323.2 1277.8,2327 1318.9,2328 1358.8,2333 1396.7,2333 1436,2330.6 1481.5,2322.6 1525,2326" fill="none" stroke="#ff00ff" stroke-width="2.2" stroke-linejoin="round"/>
<polygon points="468.6,2070.9 497.6,2070.9 483.1,2095.5" fill="#ff00ff"/>
<polygon points="556.2,2221.2 585.2,2221.2 570.7,2245.8" fill="#ff00ff"/>
<polygon points="589.8,2231.2 618.8,2231.2 604.3,2255.8" fill="#ff00ff"/>
<polygon points="623.1,2241.5 652.1,2241.5 637.6,2266.1" fill="#ff00ff"/>
<polygon points="656.4,2256.1 685.4,2256.1 670.9,2280.7" fill="#ff00ff"/>
<polygon points="691,2266.9 720,2266.9 705.5,2291.5" fill="#ff00ff"/>
<polygon points="726.4,2266.8 755.4,2266.8 740.9,2291.4" fill="#ff00ff"/>
<polygon points="761.9,2270.8 790.9,2270.8 776.4,2295.4" fill="#ff00ff"/>
<polygon points="797.9,2271.8 826.9,2271.8 812.4,2296.4" fill="#ff00ff"/>
<polygon points="834.2,2267.8 863.2,2267.8 848.7,2292.4" fill="#ff00ff"/>
<polygon points="872.1,2270.8 901.1,2270.8 886.6,2295.4" fill="#ff00ff"/>
<polygon points="908.1,2268.4 937.1,2268.4 922.6,2293" fill="#ff00ff"/>
<polygon points="946,2267.4 975,2267.4 960.5,2292" fill="#ff00ff"/>
<polygon points="984,2262.7 1013,2262.7 998.5,2287.3" fill="#ff00ff"/>
<polygon points="1023.4,2269.4 1052.4,2269.4 1037.9,2294" fill="#ff00ff"/>
<polygon points="1062.9,2271.8 1091.9,2271.8 1077.4,2296.4" fill="#ff00ff"/>
<polygon points="1101.2,2282 1130.2,2282 1115.7,2306.6" fill="#ff00ff"/>
<polygon points="1140.5,2290 1169.5,2290 1155,2314.6" fill="#ff00ff"/>
<polygon points="1179.7,2298.8 1208.7,2298.8 1194.2,2323.4" fill="#ff00ff"/>
<polygon points="1221.6,2314.9 1250.6,2314.9 1236.1,2339.5" fill="#ff00ff"/>
<polygon points="1263.3,2318.7 1292.3,2318.7 1277.8,2343.3" fill="#ff00ff"/>
<polygon points="1304.4,2319.7 1333.4,2319.7 1318.9,2344.3" fill="#ff00ff"/>
<polygon points="1344.3,2324.7 1373.3,2324.7 1358.8,2349.3" fill="#ff00ff"/>
<polygon points="1382.2,2324.7 1411.2,2324.7 1396.7,2349.3" fill="#ff00ff"/>
<polygon points="1421.5,2322.3 1450.5,2322.3 1436,2346.9" fill="#ff00ff"/>
<polygon points="1467,2314.3 1496,2314.3 1481.5,2338.9" fill="#ff00ff"/>
<polygon points="1510.5,2317.7 1539.5,2317.7 1525,2342.3" fill="#ff00ff"/>
<polyline points="483.1,1756.9 570.7,2029.9 604.3,2112.7 637.6,2157.6 670.9,2187 705.5,2212.9 740.9,2226.8 776.4,2238.8 812.4,2250.8 848.7,2253.4 886.6,2258.2 922.6,2265.7 960.5,2264.8 998.5,2263.3 1037.9,2270.7 1077.4,2259.8 1115.7,2259.8 1155,2275.7 1194.2,2256.8 1236.1,2248.8 1277.8,2244.8 1318.9,2238.1 1358.8,2222.4 1396.7,2172.9 1436,2177.8 1481.5,2163.5 1525,2227" fill="none" stroke="#008000" stroke-width="2.2" stroke-linejoin="round"/>
<polygon points="483.1,1742.5 497.5,1756.9 483.1,1771.3 468.7,1756.9" fill="#008000" stroke="#008000" stroke-width="1.6" stroke-linejoin="round"/>
<polygon points="570.7,2015.5 585.1,2029.9 570.7,2044.3 556.3,2029.9" fill="#008000" stroke="#008000" stroke-width="1.6" stroke-linejoin="round"/>
<polygon points="604.3,2098.3 618.7,2112.7 604.3,2127.1 589.9,2112.7" fill="#008000" stroke="#008000" stroke-width="1.6" stroke-linejoin="round"/>
<polygon points="637.6,2143.2 652,2157.6 637.6,2172 623.2,2157.6" fill="#008000" stroke="#008000" stroke-width="1.6" stroke-linejoin="round"/>
<polygon points="670.9,2172.6 685.3,2187 670.9,2201.4 656.5,2187" fill="#008000" stroke="#008000" stroke-width="1.6" stroke-linejoin="round"/>
<polygon points="705.5,2198.5 719.9,2212.9 705.5,2227.3 691.1,2212.9" fill="#008000" stroke="#008000" stroke-width="1.6" stroke-linejoin="round"/>
<polygon points="740.9,2212.4 755.3,2226.8 740.9,2241.2 726.5,2226.8" fill="#008000" stroke="#008000" stroke-width="1.6" stroke-linejoin="round"/>
<polygon points="776.4,2224.4 790.8,2238.8 776.4,2253.2 762,2238.8" fill="#008000" stroke="#008000" stroke-width="1.6" stroke-linejoin="round"/>
<polygon points="812.4,2236.4 826.8,2250.8 812.4,2265.2 798,2250.8" fill="#008000" stroke="#008000" stroke-width="1.6" stroke-linejoin="round"/>
<polygon points="848.7,2239 863.1,2253.4 848.7,2267.8 834.3,2253.4" fill="#008000" stroke="#008000" stroke-width="1.6" stroke-linejoin="round"/>
<polygon points="886.6,2243.8 901,2258.2 886.6,2272.6 872.2,2258.2" fill="#008000" stroke="#008000" stroke-width="1.6" stroke-linejoin="round"/>
<polygon points="922.6,2251.3 937,2265.7 922.6,2280.1 908.2,2265.7" fill="#008000" stroke="#008000" stroke-width="1.6" stroke-linejoin="round"/>
<polygon points="960.5,2250.4 974.9,2264.8 960.5,2279.2 946.1,2264.8" fill="#008000" stroke="#008000" stroke-width="1.6" stroke-linejoin="round"/>
<polygon points="998.5,2248.9 1012.9,2263.3 998.5,2277.7 984.1,2263.3" fill="#008000" stroke="#008000" stroke-width="1.6" stroke-linejoin="round"/>
<polygon points="1037.9,2256.3 1052.3,2270.7 1037.9,2285.1 1023.5,2270.7" fill="#008000" stroke="#008000" stroke-width="1.6" stroke-linejoin="round"/>
<polygon points="1077.4,2245.4 1091.8,2259.8 1077.4,2274.2 1063,2259.8" fill="#008000" stroke="#008000" stroke-width="1.6" stroke-linejoin="round"/>
<polygon points="1115.7,2245.4 1130.1,2259.8 1115.7,2274.2 1101.3,2259.8" fill="#008000" stroke="#008000" stroke-width="1.6" stroke-linejoin="round"/>
<polygon points="1155,2261.3 1169.4,2275.7 1155,2290.1 1140.6,2275.7" fill="#008000" stroke="#008000" stroke-width="1.6" stroke-linejoin="round"/>
<polygon points="1194.2,2242.4 1208.6,2256.8 1194.2,2271.2 1179.8,2256.8" fill="#008000" stroke="#008000" stroke-width="1.6" stroke-linejoin="round"/>
<polygon points="1236.1,2234.4 1250.5,2248.8 1236.1,2263.2 1221.7,2248.8" fill="#008000" stroke="#008000" stroke-width="1.6" stroke-linejoin="round"/>
<polygon points="1277.8,2230.4 1292.2,2244.8 1277.8,2259.2 1263.4,2244.8" fill="#008000" stroke="#008000" stroke-width="1.6" stroke-linejoin="round"/>
<polygon points="1318.9,2223.7 1333.3,2238.1 1318.9,2252.5 1304.5,2238.1" fill="#008000" stroke="#008000" stroke-width="1.6" stroke-linejoin="round"/>
<polygon points="1358.8,2208 1373.2,2222.4 1358.8,2236.8 1344.4,2222.4" fill="#008000" stroke="#008000" stroke-width="1.6" stroke-linejoin="round"/>
<polygon points="1396.7,2158.5 1411.1,2172.9 1396.7,2187.3 1382.3,2172.9" fill="#008000" stroke="#008000" stroke-width="1.6" stroke-linejoin="round"/>
<polygon points="1436,2163.4 1450.4,2177.8 1436,2192.2 1421.6,2177.8" fill="#008000" stroke="#008000" stroke-width="1.6" stroke-linejoin="round"/>
<polygon points="1481.5,2149.1 1495.9,2163.5 1481.5,2177.9 1467.1,2163.5" fill="#008000" stroke="#008000" stroke-width="1.6" stroke-linejoin="round"/>
<polygon points="1525,2212.6 1539.4,2227 1525,2241.4 1510.6,2227" fill="#008000" stroke="#008000" stroke-width="1.6" stroke-linejoin="round"/>
<polyline points="483.1,2271.3 570.7,2289.9 604.3,2290.9 637.6,2294.5 670.9,2299.8 705.5,2303.8 740.9,2303.8 776.4,2307.7 812.4,2310.7 848.7,2307.7 886.6,2309.8 922.6,2310.8 960.5,2312.8 998.5,2313.2 1037.9,2316.8 1077.4,2320.4 1115.7,2320.4 1155,2323.8 1194.2,2325.8 1236.1,2328.3 1277.8,2326.4 1318.9,2323.7 1358.8,2326.3 1396.7,2327.7 1436,2329.7 1481.5,2315.1 1525,2316.7" fill="none" stroke="#ff8000" stroke-width="2.2" stroke-linejoin="round"/>
<polygon points="483.1,2258.8 486.6,2267.5 495.9,2268.1 488.7,2274.1 491,2283.2 483.1,2278.2 475.2,2283.2 477.5,2274.1 470.3,2268.1 479.6,2267.5" fill="#ff8000" stroke="#ff8000" stroke-width="1.4" stroke-linejoin="round"/>
<polygon points="570.7,2277.4 574.2,2286.1 583.5,2286.7 576.3,2292.7 578.6,2301.8 570.7,2296.8 562.8,2301.8 565.1,2292.7 557.9,2286.7 567.2,2286.1" fill="#ff8000" stroke="#ff8000" stroke-width="1.4" stroke-linejoin="round"/>
<polygon points="604.3,2278.4 607.8,2287.1 617.1,2287.7 609.9,2293.7 612.2,2302.8 604.3,2297.8 596.4,2302.8 598.7,2293.7 591.5,2287.7 600.8,2287.1" fill="#ff8000" stroke="#ff8000" stroke-width="1.4" stroke-linejoin="round"/>
<polygon points="637.6,2282 641.1,2290.7 650.4,2291.3 643.2,2297.3 645.5,2306.4 637.6,2301.4 629.7,2306.4 632,2297.3 624.8,2291.3 634.1,2290.7" fill="#ff8000" stroke="#ff8000" stroke-width="1.4" stroke-linejoin="round"/>
<polygon points="670.9,2287.3 674.4,2296 683.7,2296.6 676.5,2302.6 678.8,2311.7 670.9,2306.7 663,2311.7 665.3,2302.6 658.1,2296.6 667.4,2296" fill="#ff8000" stroke="#ff8000" stroke-width="1.4" stroke-linejoin="round"/>
<polygon points="705.5,2291.3 709,2300 718.3,2300.6 711.1,2306.6 713.4,2315.7 705.5,2310.7 697.6,2315.7 699.9,2306.6 692.7,2300.6 702,2300" fill="#ff8000" stroke="#ff8000" stroke-width="1.4" stroke-linejoin="round"/>
<polygon points="740.9,2291.3 744.4,2300 753.7,2300.6 746.5,2306.6 748.8,2315.7 740.9,2310.7 733,2315.7 735.3,2306.6 728.1,2300.6 737.4,2300" fill="#ff8000" stroke="#ff8000" stroke-width="1.4" stroke-linejoin="round"/>
<polygon points="776.4,2295.2 779.9,2303.9 789.2,2304.5 782,2310.5 784.3,2319.6 776.4,2314.6 768.5,2319.6 770.8,2310.5 763.6,2304.5 772.9,2303.9" fill="#ff8000" stroke="#ff8000" stroke-width="1.4" stroke-linejoin="round"/>
<polygon points="812.4,2298.2 815.9,2306.9 825.2,2307.5 818,2313.5 820.3,2322.6 812.4,2317.6 804.5,2322.6 806.8,2313.5 799.6,2307.5 808.9,2306.9" fill="#ff8000" stroke="#ff8000" stroke-width="1.4" stroke-linejoin="round"/>
<polygon points="848.7,2295.2 852.2,2303.9 861.5,2304.5 854.3,2310.5 856.6,2319.6 848.7,2314.6 840.8,2319.6 843.1,2310.5 835.9,2304.5 845.2,2303.9" fill="#ff8000" stroke="#ff8000" stroke-width="1.4" stroke-linejoin="round"/>
<polygon points="886.6,2297.3 890.1,2306 899.4,2306.6 892.2,2312.6 894.5,2321.7 886.6,2316.7 878.7,2321.7 881,2312.6 873.8,2306.6 883.1,2306" fill="#ff8000" stroke="#ff8000" stroke-width="1.4" stroke-linejoin="round"/>
<polygon points="922.6,2298.3 926.1,2307 935.4,2307.6 928.2,2313.6 930.5,2322.7 922.6,2317.7 914.7,2322.7 917,2313.6 909.8,2307.6 919.1,2307" fill="#ff8000" stroke="#ff8000" stroke-width="1.4" stroke-linejoin="round"/>
<polygon points="960.5,2300.3 964,2309 973.3,2309.6 966.1,2315.6 968.4,2324.7 960.5,2319.7 952.6,2324.7 954.9,2315.6 947.7,2309.6 957,2309" fill="#ff8000" stroke="#ff8000" stroke-width="1.4" stroke-linejoin="round"/>
<polygon points="998.5,2300.7 1002,2309.4 1011.3,2310 1004.1,2316 1006.4,2325.1 998.5,2320.1 990.6,2325.1 992.9,2316 985.7,2310 995,2309.4" fill="#ff8000" stroke="#ff8000" stroke-width="1.4" stroke-linejoin="round"/>
<polygon points="1037.9,2304.3 1041.4,2313 1050.7,2313.6 1043.5,2319.6 1045.8,2328.7 1037.9,2323.7 1030,2328.7 1032.3,2319.6 1025.1,2313.6 1034.4,2313" fill="#ff8000" stroke="#ff8000" stroke-width="1.4" stroke-linejoin="round"/>
<polygon points="1077.4,2307.9 1080.9,2316.6 1090.2,2317.2 1083,2323.2 1085.3,2332.3 1077.4,2327.3 1069.5,2332.3 1071.8,2323.2 1064.6,2317.2 1073.9,2316.6" fill="#ff8000" stroke="#ff8000" stroke-width="1.4" stroke-linejoin="round"/>
<polygon points="1115.7,2307.9 1119.2,2316.6 1128.5,2317.2 1121.3,2323.2 1123.6,2332.3 1115.7,2327.3 1107.8,2332.3 1110.1,2323.2 1102.9,2317.2 1112.2,2316.6" fill="#ff8000" stroke="#ff8000" stroke-width="1.4" stroke-linejoin="round"/>
<polygon points="1155,2311.3 1158.5,2320 1167.8,2320.6 1160.6,2326.6 1162.9,2335.7 1155,2330.7 1147.1,2335.7 1149.4,2326.6 1142.2,2320.6 1151.5,2320" fill="#ff8000" stroke="#ff8000" stroke-width="1.4" stroke-linejoin="round"/>
<polygon points="1194.2,2313.3 1197.7,2322 1207,2322.6 1199.8,2328.6 1202.1,2337.7 1194.2,2332.7 1186.3,2337.7 1188.6,2328.6 1181.4,2322.6 1190.7,2322" fill="#ff8000" stroke="#ff8000" stroke-width="1.4" stroke-linejoin="round"/>
<polygon points="1236.1,2315.8 1239.6,2324.5 1248.9,2325.1 1241.7,2331.1 1244,2340.2 1236.1,2335.2 1228.2,2340.2 1230.5,2331.1 1223.3,2325.1 1232.6,2324.5" fill="#ff8000" stroke="#ff8000" stroke-width="1.4" stroke-linejoin="round"/>
<polygon points="1277.8,2313.9 1281.3,2322.6 1290.6,2323.2 1283.4,2329.2 1285.7,2338.3 1277.8,2333.3 1269.9,2338.3 1272.2,2329.2 1265,2323.2 1274.3,2322.6" fill="#ff8000" stroke="#ff8000" stroke-width="1.4" stroke-linejoin="round"/>
<polygon points="1318.9,2311.2 1322.4,2319.9 1331.7,2320.5 1324.5,2326.5 1326.8,2335.6 1318.9,2330.6 1311,2335.6 1313.3,2326.5 1306.1,2320.5 1315.4,2319.9" fill="#ff8000" stroke="#ff8000" stroke-width="1.4" stroke-linejoin="round"/>
<polygon points="1358.8,2313.8 1362.3,2322.5 1371.6,2323.1 1364.4,2329.1 1366.7,2338.2 1358.8,2333.2 1350.9,2338.2 1353.2,2329.1 1346,2323.1 1355.3,2322.5" fill="#ff8000" stroke="#ff8000" stroke-width="1.4" stroke-linejoin="round"/>
<polygon points="1396.7,2315.2 1400.2,2323.9 1409.5,2324.5 1402.3,2330.5 1404.6,2339.6 1396.7,2334.6 1388.8,2339.6 1391.1,2330.5 1383.9,2324.5 1393.2,2323.9" fill="#ff8000" stroke="#ff8000" stroke-width="1.4" stroke-linejoin="round"/>
<polygon points="1436,2317.2 1439.5,2325.9 1448.8,2326.5 1441.6,2332.5 1443.9,2341.6 1436,2336.6 1428.1,2341.6 1430.4,2332.5 1423.2,2326.5 1432.5,2325.9" fill="#ff8000" stroke="#ff8000" stroke-width="1.4" stroke-linejoin="round"/>
<polygon points="1481.5,2302.6 1485,2311.3 1494.3,2311.9 1487.1,2317.9 1489.4,2327 1481.5,2322 1473.6,2327 1475.9,2317.9 1468.7,2311.9 1478,2311.3" fill="#ff8000" stroke="#ff8000" stroke-width="1.4" stroke-linejoin="round"/>
<polygon points="1525,2304.2 1528.5,2312.9 1537.8,2313.5 1530.6,2319.5 1532.9,2328.6 1525,2323.6 1517.1,2328.6 1519.4,2319.5 1512.2,2313.5 1521.5,2312.9" fill="#ff8000" stroke="#ff8000" stroke-width="1.4" stroke-linejoin="round"/>
</g>
<text transform="translate(195.8 2353) scale(0.9760 1)" font-size="51.4" text-anchor="end">0.0</text>
<text transform="translate(195.8 2119.75) scale(0.9760 1)" font-size="51.4" text-anchor="end">0.6</text>
<text transform="translate(195.8 1886.5) scale(0.9760 1)" font-size="51.4" text-anchor="end">1.2</text>
<text transform="translate(195.8 1653.25) scale(0.9760 1)" font-size="51.4" text-anchor="end">1.8</text>
<text transform="translate(195.8 1420) scale(0.9760 1)" font-size="51.4" text-anchor="end">2.4</text>
<text transform="translate(227.3 2408.4) scale(0.9570 1)" font-size="51.4" text-anchor="middle">1</text>
<text transform="translate(864.1 2408.4) scale(0.9570 1)" font-size="51.4" text-anchor="middle">10</text>
<text transform="translate(1499.7 2408.4) scale(0.9570 1)" font-size="51.4" text-anchor="middle">100</text>
<text transform="translate(863.2 2509.2)" font-size="67" text-anchor="middle">Pore size (nm)</text>
<text transform="translate(92.3 2377.4) rotate(-90) scale(0.9918 1)" font-size="68" text-anchor="start">dV/dlog(D) Pore Volume (cm<tspan font-size="40" dy="-37" dx="-1.4">3</tspan><tspan dy="37" dx="2.3">/g)</tspan></text>
<text transform="translate(225.6 1386)" font-size="105" text-anchor="start" stroke="#000" stroke-width="0.6">(b)</text>
<g shape-rendering="crispEdges">
<rect x="1066.7" y="1434" width="406.4" height="389.8" fill="#000"/>
<rect x="1053.2" y="1420" width="404.9" height="388.8" fill="#fff" stroke="#000" stroke-width="2.2"/>
</g>
<line x1="1076" y1="1470.9" x2="1190" y2="1470.9" stroke="#000000" stroke-width="2.2" shape-rendering="crispEdges"/>
<rect x="1122.1" y="1460.5" width="21" height="21.3" fill="#000000"/>
<text transform="translate(1199.6 1487) scale(0.9520 1)" font-size="52.5" text-anchor="start">Pitch AC-6</text>
<line x1="1076" y1="1532.9" x2="1190" y2="1532.9" stroke="#ff0000" stroke-width="2.2" shape-rendering="crispEdges"/>
<circle cx="1132.6" cy="1533.3" r="11.7" fill="#ff0000"/>
<text transform="translate(1199.6 1549) scale(0.9520 1)" font-size="52.5" text-anchor="start">Pitch AC-7</text>
<line x1="1076" y1="1595" x2="1190" y2="1595" stroke="#0000ff" stroke-width="2.2" shape-rendering="crispEdges"/>
<polygon points="1132.6,1579.4 1147.1,1604 1118.1,1604" fill="#0000ff"/>
<text transform="translate(1199.6 1611.1) scale(0.9520 1)" font-size="52.5" text-anchor="start">Pitch AC-8</text>
<line x1="1076" y1="1656" x2="1190" y2="1656" stroke="#ff00ff" stroke-width="2.2" shape-rendering="crispEdges"/>
<polygon points="1118.1,1647.7 1147.1,1647.7 1132.6,1672.3" fill="#ff00ff"/>
<text transform="translate(1199.6 1672.1) scale(0.9520 1)" font-size="52.5" text-anchor="start">Pitch AC-9</text>
<line x1="1076" y1="1717.9" x2="1190" y2="1717.9" stroke="#008000" stroke-width="2.2" shape-rendering="crispEdges"/>
<polygon points="1132.6,1703.5 1147,1717.9 1132.6,1732.3 1118.2,1717.9" fill="#008000" stroke="#008000" stroke-width="1.6" stroke-linejoin="round"/>
<text transform="translate(1199.6 1734) scale(0.9491 1)" font-size="52.5" text-anchor="start">Pitch AC-12</text>
<line x1="1076" y1="1780" x2="1190" y2="1780" stroke="#ff8000" stroke-width="2.2" shape-rendering="crispEdges"/>
<polygon points="1132.6,1767.5 1136.1,1776.2 1145.4,1776.8 1138.2,1782.8 1140.5,1791.9 1132.6,1786.9 1124.7,1791.9 1127,1782.8 1119.8,1776.8 1129.1,1776.2" fill="#ff8000" stroke="#ff8000" stroke-width="1.4" stroke-linejoin="round"/>
<text transform="translate(1205.4 1796.1) scale(0.9158 1)" font-size="52.5" text-anchor="start">YP-50F</text>
</g>
</svg>
</body>
</html>
